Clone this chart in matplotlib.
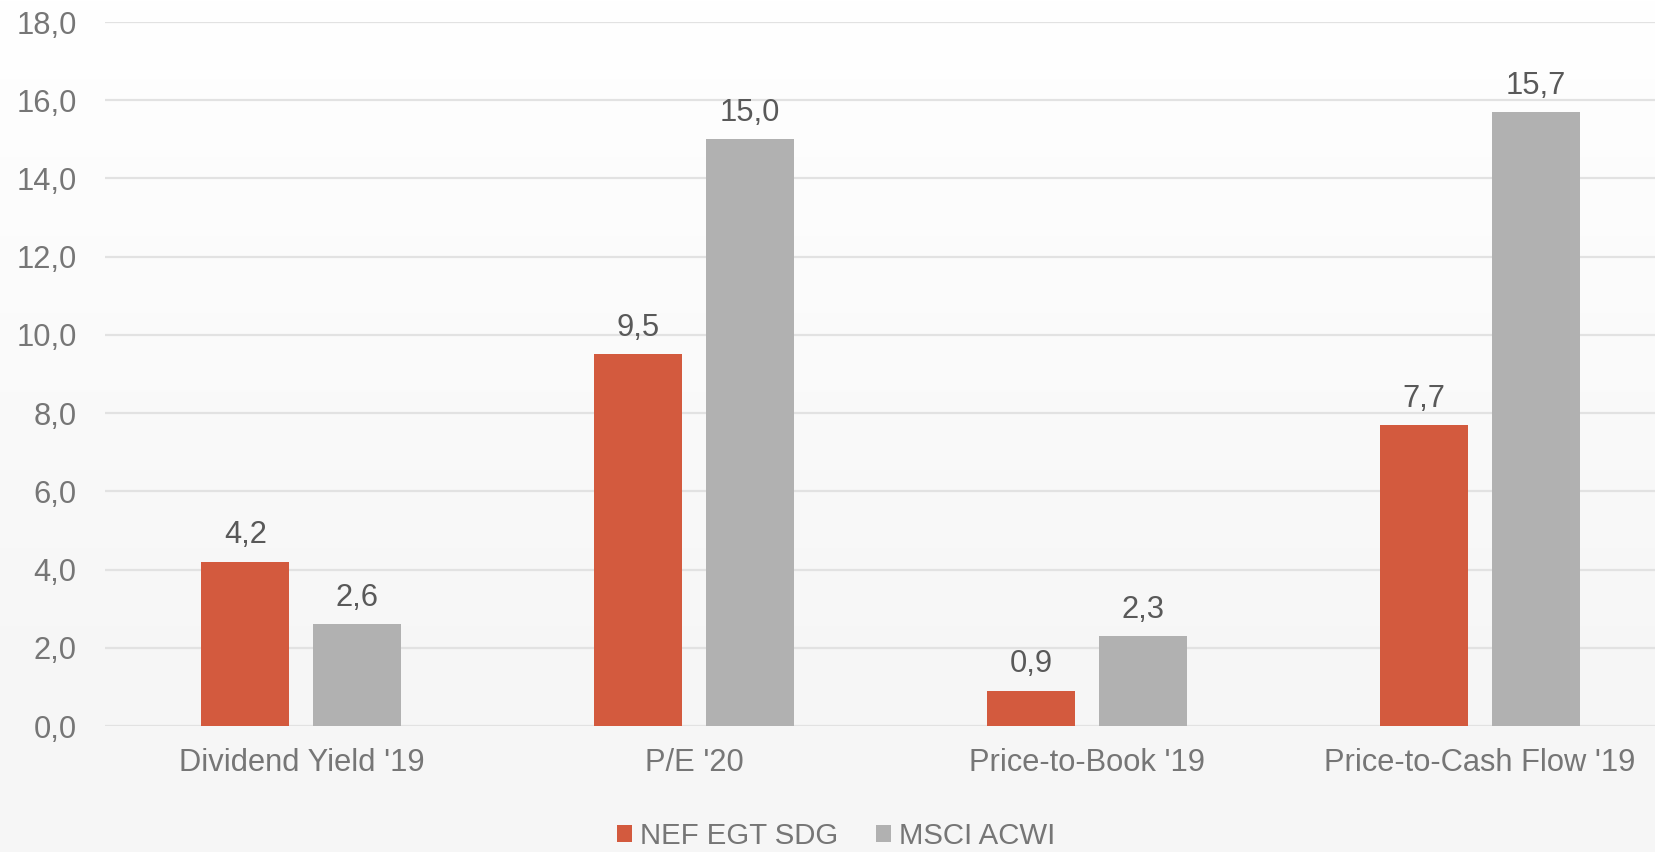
import numpy as np
import matplotlib
matplotlib.use("Agg")
import matplotlib.pyplot as plt

categories = ["Dividend Yield '19", "P/E '20", "Price-to-Book '19", "Price-to-Cash Flow '19"]
series_names = ["NEF EGT SDG", "MSCI ACWI"]
nef_values = [4.2, 9.5, 0.9, 7.7]
msci_values = [2.6, 15.0, 2.3, 15.7]
y_ticks = [0, 2, 4, 6, 8, 10, 12, 14, 16, 18]

RED = "#D35A3E"
GREY = "#B1B1B1"
TICK_COLOR = "#767676"
LABEL_COLOR = "#595959"
GRID_COLOR = "#E2E2E2"
FS = 22.2
LEG_FS = 21.2

plt.rcParams["font.family"] = ["Liberation Sans", "DejaVu Sans"]

W, H = 1656, 852
fig = plt.figure(figsize=(W / 100, H / 100), dpi=100)

# soft vertical background gradient: white at the top, light grey below
bg = fig.add_axes([0, 0, 1, 1], zorder=-10)
rows = np.linspace(0, 1, 400)
shade = np.clip(rows / 0.75, 0, 1)
top, bottom = 1.0, 0.968
vals = top + (bottom - top) * shade
img = np.repeat(vals[:, None], 2, axis=1)
bg.imshow(np.dstack([img, img, img]), aspect="auto", extent=[0, 1, 1, 0])
bg.set_axis_off()

left = 105 / W
bottom_ax = (H - 726) / H
height = (726 - 22) / H
width = 1571 / W
ax = fig.add_axes([left, bottom_ax, width, height])
ax.set_facecolor("none")

x = np.arange(len(categories))
bw = 0.224
off = 0.1426
b1 = ax.bar(x - off, nef_values, bw, color=RED, zorder=3, label=series_names[0])
b2 = ax.bar(x + off, msci_values, bw, color=GREY, zorder=3, label=series_names[1])

for bars, vals_ in ((b1, nef_values), (b2, msci_values)):
    for rect, v in zip(bars, vals_):
        ax.annotate(f"{v:.1f}".replace(".", ","),
                    (rect.get_x() + rect.get_width() / 2, v),
                    xytext=(0, 13.2), textcoords="offset points",
                    ha="center", va="baseline", fontsize=FS, color=LABEL_COLOR)

ax.set_xlim(-0.5, len(categories) - 0.5)
ax.set_ylim(0, 18)
ax.set_yticks(y_ticks)
ax.set_yticklabels([f"{t:.1f}".replace(".", ",") for t in y_ticks])
ax.set_xticks(x)
ax.set_xticklabels(categories)
ax.tick_params(axis="both", length=0, labelsize=FS, labelcolor=TICK_COLOR)
ax.tick_params(axis="y", pad=20.4)
ax.tick_params(axis="x", pad=16)
ax.grid(axis="y", color=GRID_COLOR, linewidth=1.6, zorder=0)
for s in ax.spines.values():
    s.set_visible(False)

leg = fig.legend(handles=[b1, b2], labels=series_names, loc="center",
                 bbox_to_anchor=(836 / W, 1 - 836 / H), ncol=2, frameon=False,
                 fontsize=LEG_FS, handlelength=0.51, handleheight=0.51,
                 handletextpad=0.27, columnspacing=1.29, borderpad=0)
for t in leg.get_texts():
    t.set_color(TICK_COLOR)

fig.savefig("out.png", dpi=100)
